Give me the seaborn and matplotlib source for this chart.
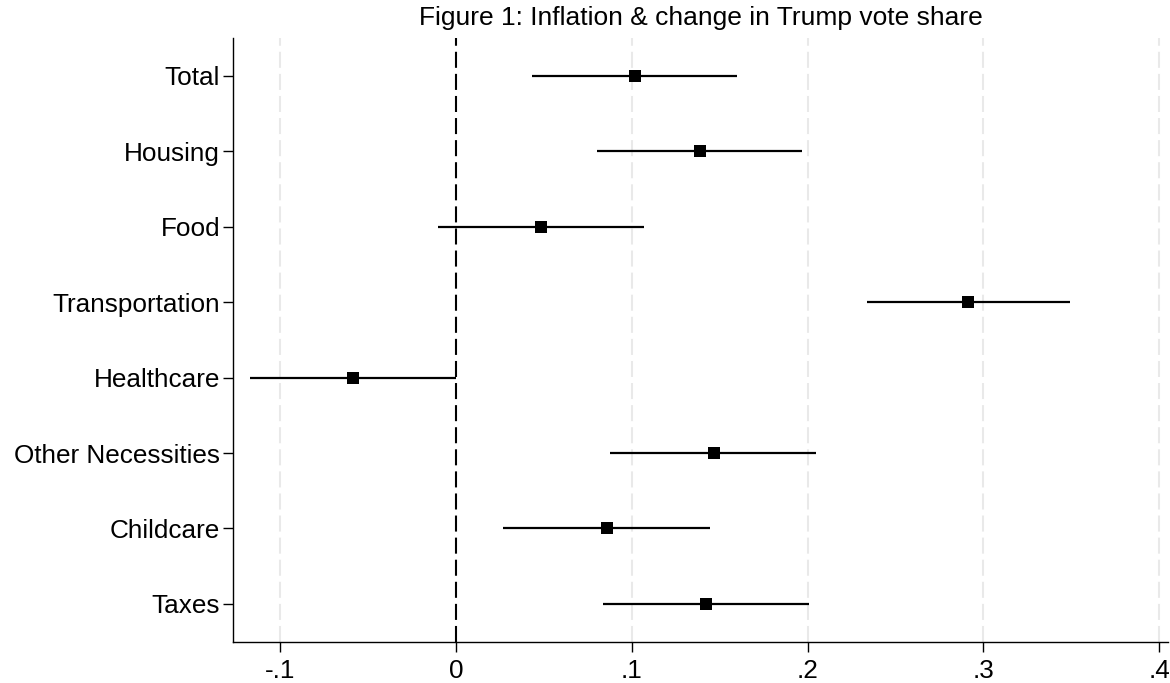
import numpy as np
import pandas as pd
import matplotlib
matplotlib.use('Agg')
import matplotlib.pyplot as plt
import seaborn as sns

# Data: point estimates and 95% CI bounds
categories = ['Total', 'Housing', 'Food', 'Transportation', 'Healthcare',
              'Other Necessities', 'Childcare', 'Taxes']
estimate = [0.1015, 0.1385, 0.0482, 0.2910, -0.0585, 0.1465, 0.0858, 0.1419]
ci_low = [0.0431, 0.0800, -0.0106, 0.2337, -0.1172, 0.0877, 0.0269, 0.0838]
ci_high = [0.1600, 0.1970, 0.1066, 0.3490, 0.0000, 0.2047, 0.1442, 0.2005]
x_ticks = [-0.1, 0, 0.1, 0.2, 0.3, 0.4]
x_tick_labels = ['-.1', '0', '.1', '.2', '.3', '.4']

df = pd.DataFrame({'category': categories, 'estimate': estimate,
                   'lo': ci_low, 'hi': ci_high})

sns.set_theme(style='white')
plt.rcParams['font.family'] = ['Liberation Sans', 'DejaVu Sans']

fig = plt.figure(figsize=(11.7, 6.83), dpi=100)
ax = fig.add_axes([0.1994, 0.0605, 0.7989, 0.8839])

# Light dashed vertical grid lines
for t in x_ticks:
    if t != 0:
        ax.axvline(t, color='#e9e9e9', lw=1.5, ls=(0, (7.7, 2.9)), zorder=0)
# Reference line at zero
ax.axvline(0, color='black', lw=1.5, ls=(0, (7.7, 2.9)), zorder=1)

# Confidence intervals
ax.hlines(df['category'], df['lo'], df['hi'], color='black', lw=1.6, zorder=2)

# Point estimates
sns.scatterplot(data=df, x='estimate', y='category', marker='s', s=64,
                color='black', edgecolor='black', linewidth=0, zorder=3, ax=ax)

ax.set_xlim(-0.1268, 0.405)
ax.set_ylim(7.5, -0.5)
ax.set_xticks(x_ticks)
ax.set_xticklabels(x_tick_labels)
ax.set_xlabel('')
ax.set_ylabel('')

for side in ['top', 'right']:
    ax.spines[side].set_visible(False)
for side in ['left', 'bottom']:
    ax.spines[side].set_color('black')
    ax.spines[side].set_linewidth(1.0)

ax.tick_params(axis='x', direction='out', length=7, width=1.0, color='black',
               labelcolor='black', labelsize=18.8, pad=5.5, bottom=True)
ax.tick_params(axis='y', direction='out', length=7, width=1.0, color='black',
               labelcolor='black', labelsize=18.8, pad=2.5, left=True)

ax.set_title('Figure 1: Inflation & change in Trump vote share',
             family=['Liberation Sans Narrow', 'Liberation Sans'],
             fontsize=19, pad=9, color='black')

fig.savefig('out.png', dpi=100)
